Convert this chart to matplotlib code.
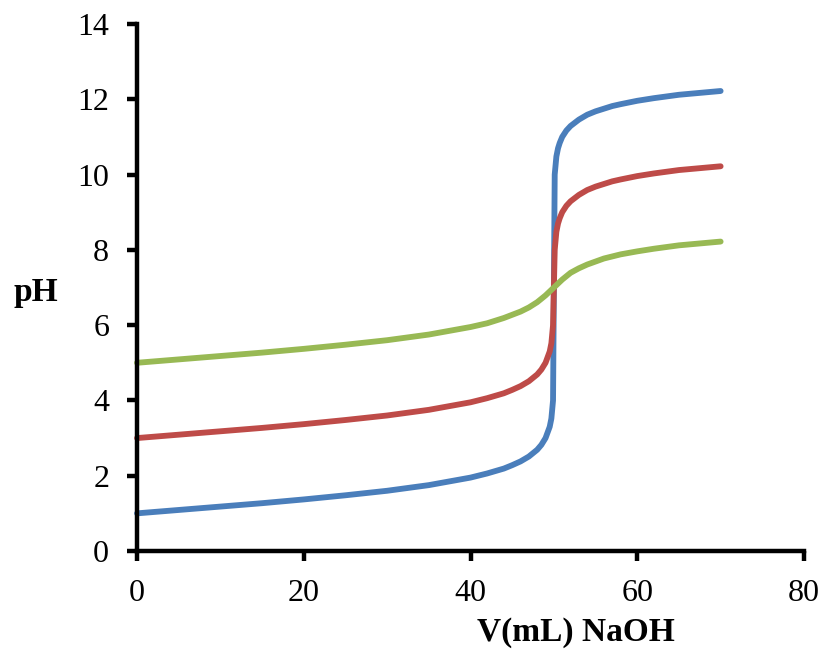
import matplotlib
matplotlib.use('Agg')
import matplotlib.pyplot as plt

# titration curves, values
v_blue = [0, 5, 10, 15, 20, 25, 30, 35, 40, 42, 44, 45, 46, 47, 48, 48.5, 49, 49.5, 49.7, 49.9,
          50, 50.1, 50.3, 50.5, 50.7, 51, 51.5, 52, 53, 54, 55, 56, 57, 58, 60, 62, 65, 67, 70]
ph_blue = [1.0, 1.09, 1.18, 1.27, 1.37, 1.48, 1.60, 1.75, 1.95, 2.06, 2.19, 2.28, 2.38, 2.51, 2.69,
           2.82, 3.0, 3.3, 3.52, 4.0, 7.0, 10.0, 10.48, 10.7, 10.84, 11.0, 11.17, 11.29, 11.46,
           11.59, 11.68, 11.75, 11.82, 11.87, 11.96, 12.03, 12.12, 12.16, 12.22]

v_red = [0, 5, 10, 15, 20, 25, 30, 35, 40, 42, 44, 45, 46, 47, 48, 48.5, 49, 49.5, 49.7, 49.9,
         50, 50.1, 50.3, 50.5, 50.7, 51, 51.5, 52, 53, 54, 55, 56, 57, 58, 60, 62, 65, 67, 70]
ph_red = [3.0, 3.09, 3.18, 3.27, 3.37, 3.48, 3.60, 3.75, 3.95, 4.06, 4.19, 4.28, 4.38, 4.51, 4.69,
          4.82, 5.0, 5.3, 5.52, 6.0, 7.0, 8.0, 8.48, 8.7, 8.84, 9.0, 9.17, 9.29, 9.46,
          9.59, 9.68, 9.75, 9.82, 9.87, 9.96, 10.03, 10.12, 10.16, 10.22]

v_green = [0, 5, 10, 15, 20, 25, 30, 35, 40, 42, 44, 46, 47, 48, 49, 50, 51, 52, 53, 54, 56, 58,
           60, 62, 65, 67, 70]
ph_green = [5.0, 5.09, 5.18, 5.27, 5.37, 5.48, 5.60, 5.75, 5.95, 6.05, 6.19, 6.36, 6.47, 6.61, 6.79,
            7.0, 7.21, 7.39, 7.51, 7.61, 7.77, 7.88, 7.96, 8.03, 8.12, 8.16, 8.22]

x_ticks = [0, 20, 40, 60, 80]
y_ticks = [0, 2, 4, 6, 8, 10, 12, 14]

plt.rcParams['font.family'] = ['Liberation Serif', 'DejaVu Serif']

fig = plt.figure(figsize=(8.24, 6.54), dpi=100)
ax = fig.add_axes([137 / 824, 1 - 551 / 654, 667 / 824, 527 / 654])

line_kw = dict(linewidth=4.2, solid_capstyle='round', solid_joinstyle='round', clip_on=False)
ax.plot(v_blue, ph_blue, color='#4A7EBB', **line_kw)
ax.plot(v_red, ph_red, color='#BE4B48', **line_kw)
ax.plot(v_green, ph_green, color='#98B954', **line_kw)

ax.set_xlim(0, 80)
ax.set_ylim(0, 14)
ax.set_xticks(x_ticks)
ax.set_yticks(y_ticks)

for side in ['top', 'right']:
    ax.spines[side].set_visible(False)
for side in ['left', 'bottom']:
    ax.spines[side].set_linewidth(3.2)
    ax.spines[side].set_capstyle('projecting')

ax.tick_params(direction='out', length=7, width=3.2, labelsize=23, pad=13, colors='black')

ax.set_xlabel('V(mL) NaOH', fontsize=24, fontweight='bold')
ax.xaxis.set_label_coords((576 - 137) / 667, (551 - 617) / 527)
fig.text(36 / 824, 1 - 292 / 654, 'pH', fontsize=24, fontweight='bold', ha='center', va='center')

fig.savefig('out.png', dpi=100)
